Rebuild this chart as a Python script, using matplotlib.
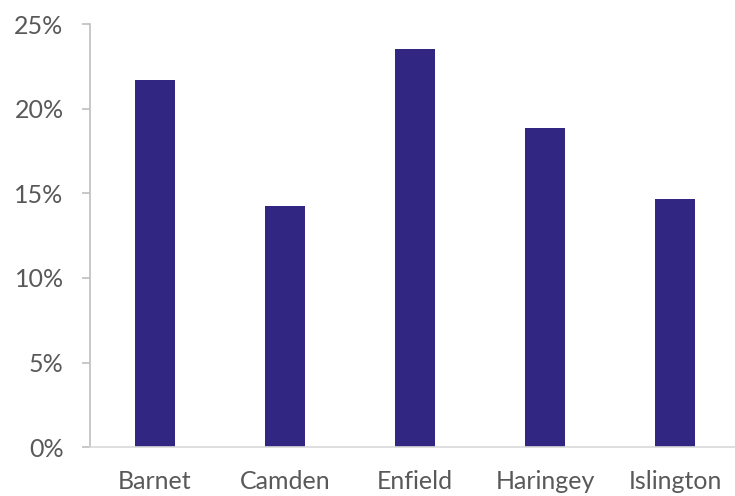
import matplotlib
matplotlib.use("Agg")
import matplotlib.pyplot as plt
from matplotlib.ticker import FuncFormatter

boroughs = ["Barnet", "Camden", "Enfield", "Haringey", "Islington"]
share = [21.7, 14.25, 23.55, 18.85, 14.65]  # percent

plt.rcParams['font.family'] = ['Lato', 'DejaVu Sans']

fig = plt.figure(figsize=(7.35, 4.96), dpi=100)
ax = fig.add_axes([90 / 735, 48.7 / 496, 650 / 735, 423.3 / 496])

ax.bar(range(len(boroughs)), share, width=0.31, color="#312783")

ax.set_xlim(-0.5, 4.5)
ax.set_ylim(0, 25)
ax.set_yticks(range(0, 26, 5))
ax.yaxis.set_major_formatter(FuncFormatter(lambda v, _: f"{v:.0f}%"))
ax.set_xticks(range(len(boroughs)))
ax.set_xticklabels(boroughs)

for s in ["top", "right"]:
    ax.spines[s].set_visible(False)
ax.spines["left"].set_color("#bfbfbf")
ax.spines["bottom"].set_color("#d9d9d9")
ax.spines["left"].set_linewidth(1.2)
ax.spines["bottom"].set_linewidth(1.2)

ax.tick_params(axis="y", length=6, width=1.2, color="#bfbfbf",
               labelsize=18, labelcolor="#595959", pad=13)
ax.tick_params(axis="x", length=0, labelsize=18, labelcolor="#595959", pad=16)

fig.savefig("out.png", dpi=100)
